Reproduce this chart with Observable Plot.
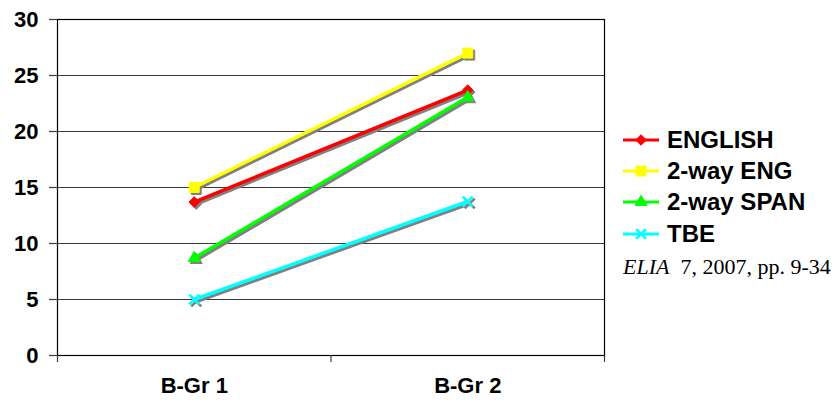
<!DOCTYPE html>
<html><head><meta charset="utf-8">
<script src="https://cdn.jsdelivr.net/npm/d3@7"></script>
<script src="https://cdn.jsdelivr.net/npm/@observablehq/plot@0.6"></script>
<style>
body{margin:0;background:#fff;}
#wrap{position:relative;width:839px;height:402px;overflow:hidden;}
#legend{position:absolute;left:623px;top:124px;font:bold 24px "Liberation Sans",Arial,sans-serif;color:#000;}
.row{display:flex;align-items:center;height:31.3px;}
.row svg{display:block;margin-right:8px;}
#note{position:absolute;left:623px;top:254px;font:22px "Liberation Serif","Times New Roman",serif;color:#000;white-space:pre;}
</style>
</head><body>
<div id="wrap"><div id="chart"></div><div id="legend"></div><div id="note"><i>ELIA</i>  7, 2007, pp. 9-34</div></div>
<script>
const groups = ["B-Gr 1", "B-Gr 2"];
const seriesNames = ["ENGLISH", "2-way ENG", "2-way SPAN", "TBE"];
const englishValues = [13.7, 23.7];
const twoWayEngValues = [15.0, 27.0];
const twoWaySpanValues = [8.7, 23.05];
const tbeValues = [5.0, 13.75];
const yTicks = [0, 5, 10, 15, 20, 25, 30];

const seriesColors = ["#ff0000", "#ffff00", "#00ff00", "#00ffff"];
const seriesSymbols = ["diamond2", "square", "triangle", "times"];
const symbolSizes = [4.8, 5.6, 4.4, 4.6];

const allValues = [englishValues, twoWayEngValues, twoWaySpanValues, tbeValues];
const rows = seriesNames.flatMap((s, si) => allValues[si].map((v, gi) => ({series: s, si, gi, group: groups[gi], value: v})));

const xPos = d => d.gi + 0.5;
const font = '"Liberation Sans", Arial, sans-serif';

const marks = [
  Plot.gridY(yTicks, {stroke: "#3c3c3c", strokeOpacity: 1, strokeWidth: 1.2}),
  Plot.frame({stroke: "#000", strokeWidth: 1.2}),
  Plot.axisY({ticks: yTicks, tickSize: 8, tickPadding: 11, fontSize: 22, fontWeight: "bold", stroke: "#3c3c3c", strokeWidth: 1.2, fill: "#000", label: null}),
  Plot.axisX({ticks: [0, 1, 2], tickSize: 7, tickFormat: () => "", stroke: "#3c3c3c", strokeWidth: 1.2, label: null}),
  Plot.axisX({ticks: [0.5, 1.5], tickSize: 0, tickPadding: 22, tickFormat: d => groups[Math.floor(d)], fontSize: 22, fontWeight: "bold", fill: "#000", label: null}),
  Plot.line(rows, {x: xPos, y: "value", z: "series", stroke: "#808080", strokeWidth: 3.5, dx: 2, dy: 2})
];
seriesNames.forEach((s, si) => {
  const data = rows.filter(d => d.si === si);
  const isTimes = seriesSymbols[si] === "times";
  marks.push(Plot.dot(data, {x: xPos, y: "value", symbol: seriesSymbols[si], r: symbolSizes[si], fill: isTimes ? "none" : "#808080", stroke: "#808080", strokeWidth: isTimes ? 2.5 : 1, dx: 2, dy: 2}));
});
seriesNames.forEach((s, si) => {
  const data = rows.filter(d => d.si === si);
  const isTimes = seriesSymbols[si] === "times";
  marks.push(Plot.line(data, {x: xPos, y: "value", stroke: seriesColors[si], strokeWidth: 3.5}));
  marks.push(Plot.dot(data, {x: xPos, y: "value", symbol: seriesSymbols[si], r: symbolSizes[si], fill: isTimes ? "none" : seriesColors[si], stroke: seriesColors[si], strokeWidth: isTimes ? 2.5 : 1}));
});

const chart = Plot.plot({
  width: 839,
  height: 402,
  marginLeft: 57,
  marginRight: 235,
  marginTop: 19,
  marginBottom: 47,
  style: {fontFamily: font, background: "#fff", color: "#000"},
  x: {type: "linear", domain: [0, 2]},
  y: {domain: [0, 30]},
  marks
});
document.getElementById("chart").appendChild(chart);

// legend
const legend = d3.select("#legend");
seriesNames.forEach((s, si) => {
  const row = legend.append("div").attr("class", "row");
  const svg = row.append("svg").attr("width", 36).attr("height", 20);
  svg.append("line").attr("x1", 0).attr("x2", 36).attr("y1", 10).attr("y2", 10).attr("stroke", seriesColors[si]).attr("stroke-width", 3);
  const symMap = {diamond2: d3.symbolDiamond2, square: d3.symbolSquare, triangle: d3.symbolTriangle, times: d3.symbolTimes};
  const isTimes = seriesSymbols[si] === "times";
  svg.append("path").attr("transform", "translate(18,10)")
    .attr("d", d3.symbol(symMap[seriesSymbols[si]], Math.PI * symbolSizes[si] * symbolSizes[si])())
    .attr("fill", isTimes ? "none" : seriesColors[si]).attr("stroke", seriesColors[si]).attr("stroke-width", isTimes ? 2.5 : 1);
  row.append("span").text(s);
});
</script>
</body></html>
